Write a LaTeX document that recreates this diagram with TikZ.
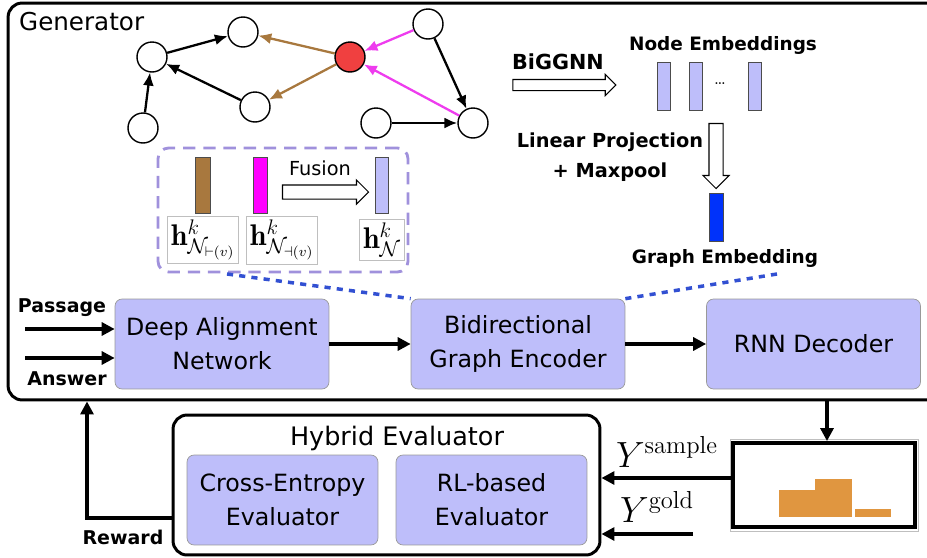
\documentclass[tikz,border=0pt]{standalone}
\usepackage{amsmath}
\usepackage{amssymb}
\usepackage{fontspec}
\setsansfont{DejaVu Sans}
\usepackage{tikz}
\usetikzlibrary{arrows.meta,shapes.arrows}

\definecolor{blockfill}{RGB}{190,190,250}
\definecolor{edgebrown}{RGB}{168,120,62}
\definecolor{edgepink}{RGB}{238,60,238}
\definecolor{barpink}{RGB}{255,0,255}
\definecolor{nodered}{RGB}{240,64,64}
\definecolor{dashlav}{RGB}{160,145,220}
\definecolor{dotblue}{RGB}{50,80,210}
\definecolor{embblue}{RGB}{0,50,250}
\definecolor{historange}{RGB}{224,150,64}

\tikzset{
	gnode/.style={circle, draw, fill=white, line width=0.8pt, minimum size=0.6cm, inner sep=0pt},
	gedge/.style={line width=1.3pt, -{Latex[length=2.6mm,width=2.2mm]}},
	block/.style={draw=black!40, fill=blockfill, rounded corners=4pt, minimum width=4.28cm, minimum height=1.8cm, align=center, font=\sffamily\fontsize{13.5}{19.5}\selectfont},
	evalblock/.style={block, minimum width=3.82cm},
	frame/.style={draw, line width=1.7pt, rounded corners=8pt, inner sep=0pt},
	flow/.style={line width=1.8pt, -{Triangle[length=2.6mm,width=2.6mm]}},
	lbl/.style={font=\sffamily\bfseries\fontsize{10.8}{13}\selectfont},
	bar/.style={draw=black!70, line width=0.5pt, minimum width=0.26cm, minimum height=0.96cm, inner sep=0pt},
	hollow/.style={single arrow, draw, line width=0.6pt, fill=white, inner sep=0.1cm, single arrow head extend=0.1cm},
	hlabel/.style={draw=black!25, fill=white, inner sep=2pt, anchor=north, font=\fontsize{17}{20}\selectfont},
	dotline/.style={dotblue, line width=2pt, dash pattern=on 3.5pt off 3.5pt}
}

\begin{document}
\begin{tikzpicture}[x=0.02cm, y=-0.02cm]
	\useasboundingbox (0,0) rectangle (927,558);
	\clip (0,0) rectangle (927,558);
	\node[frame, minimum width=19.04cm, minimum height=7.94cm] (gen) at (484,201.5) {};
	\node[anchor=west, font=\sffamily\fontsize{14}{17}\selectfont] (gentitle) at (13,22) {Generator};

	\node[gnode] (u1) at (152,57) {};
	\node[gnode] (u2) at (243,32) {};
	\node[gnode, fill=nodered] (v) at (350,57) {};
	\node[gnode] (u3) at (428,24) {};
	\node[gnode] (u4) at (255,107) {};
	\node[gnode] (u5) at (143,128) {};
	\node[gnode] (u6) at (376,123) {};
	\node[gnode] (u7) at (473,123) {};
	\draw[gedge] (u5) to (u1);
	\draw[gedge] (u1) to (u2);
	\draw[gedge] (u4) to (u1);
	\draw[gedge, edgebrown] (v) to (u2);
	\draw[gedge, edgebrown] (v) to (u4);
	\draw[gedge, edgepink] (u3) to (v);
	\draw[gedge, edgepink] (u7) to (v);
	\draw[gedge] (u3) to (u7);
	\draw[gedge] (u6) to (u7);

	\node[draw=dashlav, line width=1.6pt, rounded corners=6pt, dash pattern=on 7pt off 4.5pt, minimum width=5cm, minimum height=2.48cm] (fusebox) at (283,210) {};
	\node[bar, fill=edgebrown, minimum width=0.3cm, minimum height=1.12cm] (inbar) at (202.5,185) {};
	\node[bar, fill=barpink, minimum width=0.28cm, minimum height=1.12cm] (outbar) at (260,185) {};
	\node[bar, fill=blockfill, minimum height=1.12cm] (fusebar) at (381.5,185) {};
	\node[hollow, inner sep=0.13cm, minimum height=1.72cm] (fusearrow) at (322,192) {};
	\node[font=\sffamily\fontsize{11}{13}\selectfont] (fusetxt) at (320,168) {Fusion};
	\node[hlabel] (hin) at (203,215.5) {$\mathbf{h}^{k}_{\mathcal{N}_{\vdash(v)}}$};
	\node[hlabel] (hout) at (282,216) {$\mathbf{h}^{k}_{\mathcal{N}_{\dashv(v)}}$};
	\node[hlabel] (hall) at (382,219) {$\mathbf{h}^{k}_{\mathcal{N}}$};

	\node[hollow, minimum height=2.06cm] (gnnarrow) at (561.5,85) {};
	\node[lbl, font=\sffamily\bfseries\fontsize{11.8}{14}\selectfont] (gnntxt) at (558,62) {BiGGNN};
	\node[lbl, font=\sffamily\bfseries\fontsize{10.5}{13}\selectfont] (nodetxt) at (723,45) {Node Embeddings};
	\node[bar, fill=blockfill] (emb1) at (663.5,86) {};
	\node[bar, fill=blockfill] (emb2) at (695.5,86) {};
	\node (dots) at (720,84) {\dots};
	\node[bar, fill=blockfill] (emb3) at (754.5,86) {};
	\node[hollow, shape border rotate=270, inner sep=0.13cm, single arrow head extend=0.12cm, minimum height=1.3cm] (projarrow) at (716,152.5) {};
	\node[lbl, align=center, font=\sffamily\bfseries\fontsize{11}{17}\selectfont] (projtxt) at (610,157) {Linear Projection\\+ Maxpool};
	\node[bar, fill=embblue, minimum width=0.28cm] (gemb) at (716,217) {};
	\node[lbl, font=\sffamily\bfseries\fontsize{10.5}{13}\selectfont] (gembtxt) at (725,258) {Graph Embedding};

	\node[block] (dan) at (222,344) {Deep Alignment\\Network};
	\node[block] (bge) at (518,344) {Bidirectional\\Graph Encoder};
	\node[block] (rnn) at (813.5,344) {RNN Decoder};
	\coordinate (fuseout) at (227,274);
	\coordinate (embout) at (777,274);
	\draw[dotline] (fuseout) to (bge.north west);
	\draw[dotline] (embout) to (bge.north east);
	\coordinate (pin) at (25,329);
	\coordinate (ain) at (25,358);
	\draw[flow] (pin) to (pin -| dan.west);
	\draw[flow] (ain) to (ain -| dan.west);
	\node[lbl] (ptxt) at (62,308) {Passage};
	\node[lbl] (atxt) at (67,379) {Answer};
	\draw[flow] (dan) to (bge);
	\draw[flow] (bge) to (rnn);

	\node[frame, fill=white, minimum width=8.54cm, minimum height=2.8cm] (hyb) at (386.5,485) {};
	\node[anchor=base, font=\sffamily\fontsize{14.5}{17}\selectfont] (hybtxt) at (397,445) {Hybrid Evaluator};
	\node[evalblock] (ce) at (282.5,500) {Cross-Entropy\\Evaluator};
	\node[evalblock] (rl) at (491.5,500) {RL-based\\Evaluator};

	\draw[black!25, line width=0.4pt] (730,439) rectangle (918,531);
	\node[draw, line width=2.2pt, minimum width=3.64cm, minimum height=1.68cm, inner sep=0pt] (hist) at (824,485) {};
	\fill[historange] (779,490) rectangle (815,517);
	\fill[historange] (815,479) rectangle (852,517);
	\fill[historange] (855,509) rectangle (891,517);

	\coordinate (outtop) at (827,400);
	\draw[flow] (outtop) to (outtop |- hist.north);
	\coordinate (samp) at (733,478);
	\draw[flow] (samp) to (samp -| hyb.east);
	\coordinate (gold) at (693,534);
	\draw[flow] (gold) to (gold -| hyb.east);
	\node[font=\fontsize{20}{24}\selectfont] (ysamp) at (667,452) {$Y^{\mathrm{sample}}$};
	\node[font=\fontsize{20}{24}\selectfont] (ygold) at (657,507) {$Y^{\mathrm{gold}}$};
	\coordinate (rw) at (87,518);
	\draw[flow] (rw -| hyb.west) -- (rw) -- (rw |- gen.south);
	\node[lbl] (rtxt) at (123,537) {Reward};
\end{tikzpicture}
\end{document}
